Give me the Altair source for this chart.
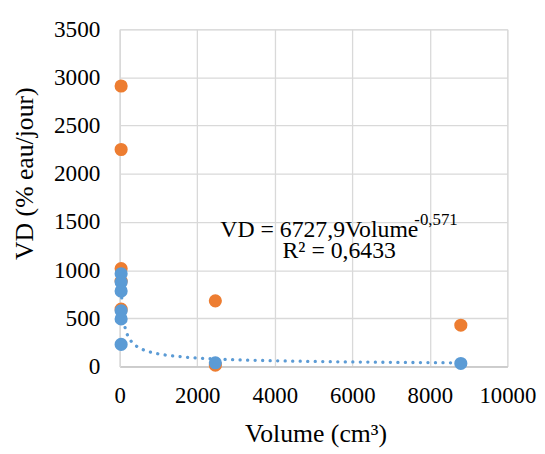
import altair as alt
import pandas as pd

# --- data ---
orange_x = [36, 36, 36, 36, 36, 2467, 2467, 8800]
orange_y = [2911, 2252, 1016, 886, 595, 681, 13, 428]
blue_x = [36, 36, 36, 36, 36, 36, 2467, 8800]
blue_y = [962, 876, 783, 578, 493, 229, 38, 31]

# power trendline printed on the chart: VD = 6727,9 * Volume^-0,571
coef_a = 6727.9
coef_b = -0.571
trend_min = 36
trend_max = 8800

x_ticks = [0, 2000, 4000, 6000, 8000, 10000]
y_ticks = [0, 500, 1000, 1500, 2000, 2500, 3000, 3500]

eq_main = "VD = 6727,9Volume"
eq_sup = "-0,571"
eq_r2 = "R² = 0,6433"
x_title = "Volume (cm³)"
y_title = "VD (% eau/jour)"

# annotation anchors (data units)
ann_main_pos = (2594, 1345)
ann_sup_pos = (7600, 1465)
ann_r2_pos = (5663, 1123)

FONT = "Liberation Serif"
ORANGE = "#ED7D31"
BLUE = "#5B9BD5"
GRID = "#d9d9d9"

x_scale = alt.Scale(domain=[0, 10000], nice=False, zero=True)
y_scale = alt.Scale(domain=[0, 3500], nice=False, zero=True)

x_axis = alt.Axis(values=x_ticks, format="d", title=x_title, grid=True, gridColor=GRID, gridWidth=1.3,
                  domainColor="#c6c6c6", domainWidth=1.6, ticks=False, labelFont=FONT,
                  labelFontSize=23, labelColor="black", labelPadding=18, labelFlush=False,
                  titleFont=FONT, titleFontSize=26, titleFontWeight="normal", titleColor="black",
                  titleX=198, titleY=75.6, titleBaseline="alphabetic", titleAlign="center")
y_axis = alt.Axis(values=y_ticks, format="d", title=y_title, grid=True, gridColor=GRID, gridWidth=1.3,
                  domainColor=GRID, domainWidth=1.3, ticks=False, labelFont=FONT,
                  labelFontSize=23.5, labelColor="black", labelPadding=20,
                  titleFont=FONT, titleFontSize=26, titleFontWeight="normal", titleColor="black",
                  titleAngle=-90, titleX=-88, titleY=145.5, titleBaseline="alphabetic",
                  titleAlign="center")

df_o = pd.DataFrame({"x": orange_x, "y": orange_y})
df_b = pd.DataFrame({"x": blue_x, "y": blue_y})

trend = alt.Chart(alt.sequence(0, 1.0001, 0.002, as_="t")).transform_calculate(
    x=f"{trend_min} * pow({trend_max}/{trend_min}, datum.t)"
).transform_calculate(
    y=f"{coef_a} * pow(datum.x, {coef_b})"
).mark_line(color=BLUE, strokeWidth=3.3, strokeDash=[0.1, 7.5], strokeCap="round").encode(
    x=alt.X("x:Q", scale=x_scale, axis=x_axis),
    y=alt.Y("y:Q", scale=y_scale, axis=y_axis),
    order="t:Q",
)

pts_o = alt.Chart(df_o).mark_circle(size=177, opacity=1, color=ORANGE).encode(
    x=alt.X("x:Q", scale=x_scale), y=alt.Y("y:Q", scale=y_scale))
pts_b = alt.Chart(df_b).mark_circle(size=177, opacity=1, color=BLUE).encode(
    x=alt.X("x:Q", scale=x_scale), y=alt.Y("y:Q", scale=y_scale))

ann_main = alt.Chart(pd.DataFrame({"x": [ann_main_pos[0]], "y": [ann_main_pos[1]], "t": [eq_main]})).mark_text(
    font=FONT, fontSize=24, align="left", baseline="alphabetic", color="black").encode(
    x=alt.X("x:Q", scale=x_scale), y=alt.Y("y:Q", scale=y_scale), text="t:N")
ann_sup = alt.Chart(pd.DataFrame({"x": [ann_sup_pos[0]], "y": [ann_sup_pos[1]], "t": [eq_sup]})).mark_text(
    font=FONT, fontSize=17, align="left", baseline="alphabetic", color="black").encode(
    x=alt.X("x:Q", scale=x_scale), y=alt.Y("y:Q", scale=y_scale), text="t:N")
ann_r2 = alt.Chart(pd.DataFrame({"x": [ann_r2_pos[0]], "y": [ann_r2_pos[1]], "t": [eq_r2]})).mark_text(
    font=FONT, fontSize=24, align="center", baseline="alphabetic", color="black").encode(
    x=alt.X("x:Q", scale=x_scale), y=alt.Y("y:Q", scale=y_scale), text="t:N")

chart = alt.layer(trend, pts_o, pts_b, ann_main, ann_sup, ann_r2).properties(
    width=392, height=341,
    autosize=alt.AutoSizeParams(type="none"),
    padding={"left": 113, "top": 19, "right": 30, "bottom": 84},
).configure_view(stroke=None).configure_axis(
    labelFont=FONT, titleFont=FONT
).configure_text(font=FONT).configure(background="white")

chart.save("out.html", embed_options={"renderer": "svg", "actions": False})
